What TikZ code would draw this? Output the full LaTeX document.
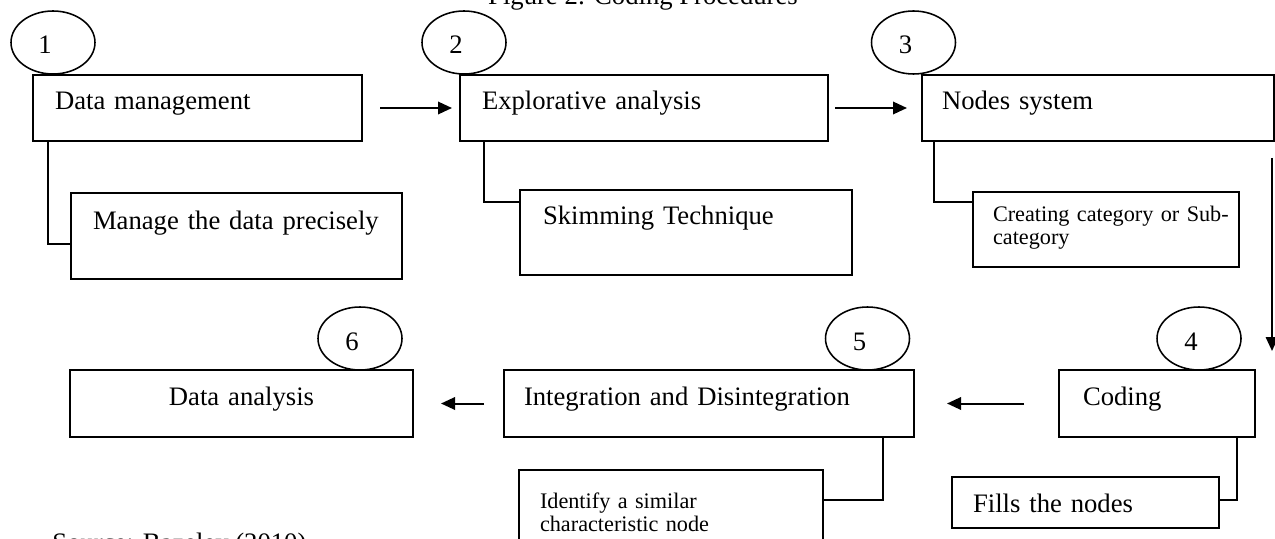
\documentclass[tikz,border=0pt]{standalone}
\usepackage{fontspec}
\setmainfont{Liberation Serif}
\usetikzlibrary{shapes.geometric,arrows.meta,calc}
\newdimen\pxu \pxu=0.45pt
\tikzset{
  box/.style={draw, line width=0.7pt, rectangle, anchor=north west, inner ysep=0pt, outer sep=0pt, align=left, font=\fontsize{12}{14}\selectfont},
  small/.style={font=\fontsize{10}{10.35}\selectfont},
  numc/.style={draw, ellipse, line width=0.7pt, minimum width=84\pxu, minimum height=63\pxu, inner sep=0pt, outer sep=0pt, font=\fontsize{12}{14}\selectfont, text height=23\pxu, text depth=0pt},
  link/.style={line width=0.7pt},
  flow/.style={line width=0.9pt, -{Triangle[length=6.3pt,width=5.6pt]}},
  plain/.style={font=\fontsize{12}{14}\selectfont, inner sep=0pt},
}
\begin{document}
\begin{tikzpicture}[x=0.45pt, y=-0.45pt]
\useasboundingbox (0,0) rectangle (1275,539);
\fill[white] (0,0) rectangle (1275,539);
\clip (0,0) rectangle (1275,539);

% title and source (cut by the page edge)
\node[plain, anchor=base] (title) at (643,5) {Figure 2: Coding Procedures};
\node[plain, anchor=base west] (src) at (52,551) {Source: Bazeley (2010)};

% top row
\node[box, text width=285\pxu, inner xsep=22\pxu, text height=35\pxu, text depth=31\pxu] (b1) at (33,75) {Data management};
\node[box, text width=324\pxu, inner xsep=22\pxu, text height=35\pxu, text depth=31\pxu] (b2) at (460,75) {Explorative analysis};
\node[box, text width=312\pxu, inner xsep=20\pxu, text height=35\pxu, text depth=31\pxu] (b3) at (922,75) {Nodes system};

\node[box, text width=287\pxu, inner xsep=22\pxu, text height=37\pxu, text depth=49\pxu] (s1) at (71,193) {Manage the data precisely};
\node[box, text width=286\pxu, inner xsep=23\pxu, text height=35\pxu, text depth=50\pxu] (s2) at (520,190) {Skimming Technique};
\node[box, small, text width=226\pxu, inner xsep=20\pxu, text height=30\pxu, text depth=45\pxu] (s3) at (973,192) {\mbox{Creating category or Sub-}\\category};

% bottom row
\node[box, align=center, text width=303\pxu, inner xsep=20\pxu, text height=35\pxu, text depth=32\pxu] (b6) at (70,370) {Data analysis};
\node[box, text width=370\pxu, inner xsep=20\pxu, text height=35\pxu, text depth=32\pxu] (b5) at (504,370) {Integration and Disintegration};
\node[box, text width=148\pxu, inner xsep=24\pxu, text height=35\pxu, text depth=32\pxu] (b4) at (1059,370) {Coding};

\node[box, small, text width=262\pxu, inner xsep=21\pxu, text height=38\pxu, text depth=52\pxu] (id) at (519,470) {Identify a similar\\characteristic node};
\node[box, text width=225\pxu, inner xsep=21\pxu, text height=35\pxu, text depth=16\pxu] (fl) at (952,477) {Fills the nodes};

% number circles
\node[numc] (c1) at (53,42.5) {1\hspace*{16\pxu}};
\node[numc] (c2) at (464,42.5) {2\hspace*{16\pxu}};
\node[numc] (c3) at (913.5,42.5) {3\hspace*{16\pxu}};
\node[numc] (c4) at (1199,338.5) {4\hspace*{16\pxu}};
\node[numc] (c5) at (867.5,338.5) {5\hspace*{16\pxu}};
\node[numc] (c6) at (360,338.5) {6\hspace*{16\pxu}};

% elbow connectors
\draw[link] ($(b1.south west)+(15,0)$) |- ($(s1.north west)+(0,51)$);
\draw[link] ($(b2.south west)+(24,0)$) |- ($(s2.north west)+(0,12)$);
\draw[link] ($(b3.south west)+(12,0)$) |- ($(s3.north west)+(0,10)$);
\draw[link] ($(b4.south east)+(-18,0)$) |- ($(fl.north east)+(0,23)$);
\draw[link] ($(b5.south east)+(-31,0)$) |- ($(id.north east)+(0,30)$);

% flow arrows
\draw[flow, shorten <=18\pxu, shorten >=8\pxu] (b1.east) -- (b2.west);
\draw[flow, shorten <=7\pxu, shorten >=15\pxu] (b2.east) -- (b3.west);
\coordinate (v34) at (1272,351);
\draw[flow] ($(b3.south east)+(-2,17)$) -- (v34);
\draw[flow, shorten <=35\pxu, shorten >=33\pxu] (b4.west) -- (b5.east);
\draw[flow, shorten <=20\pxu, shorten >=28\pxu] (b5.west) -- (b6.east);
\end{tikzpicture}
\end{document}
